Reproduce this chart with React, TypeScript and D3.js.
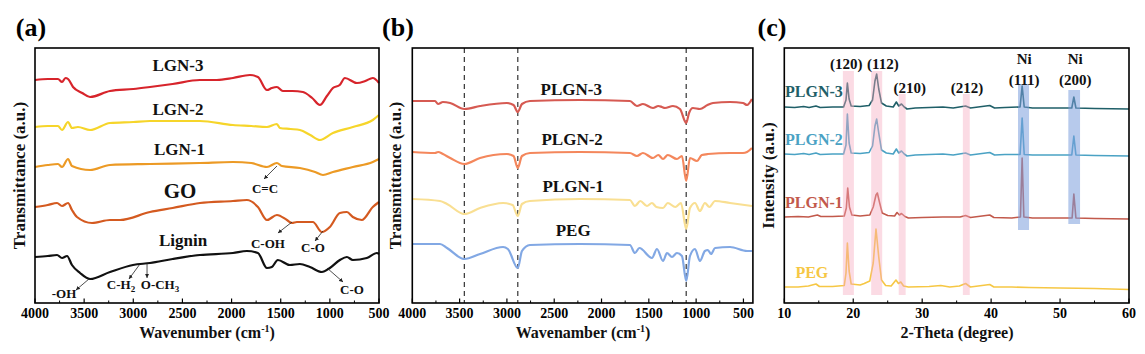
import { useEffect, useRef } from 'react';
import * as d3 from 'd3';

type Pt = [number, number];

// (a) FTIR: wavenumber (cm-1), transmittance (a.u., stacked)
const lgn3: Pt[] = [[4000,223],[3870,224],[3766,224],[3725,221],[3690,225],[3664,224],[3613,216],[3520,210],[3440,206],[3237,212],[3000,214],[2830,216],[2600,219],[2322,223],[2150,223],[1986,225],[1813,228],[1732,226],[1640,213],[1590,215],[1539,216],[1478,212],[1380,212],[1274,211],[1180,205],[1101,198],[1030,207],[969,215],[900,218],[847,225],[725,220],[640,222],[563,225],[500,220]];
const lgn2: Pt[] = [[4000,176],[3870,177],[3766,177],[3725,173],[3664,181],[3624,175],[3563,176],[3440,173],[3237,180],[3000,181],[2830,182],[2322,182],[1986,178],[1800,177],[1640,176],[1539,179],[1508,175],[1400,174],[1305,173],[1200,168],[1101,163],[969,170],[766,176],[563,183],[500,188]];
const lgn1: Pt[] = [[4000,136],[3870,138],[3766,139],[3725,136],[3664,144],[3624,137],[3440,133],[3237,138],[2830,139],[2322,140],[1986,141],[1800,140],[1640,136],[1539,140],[1488,137],[1305,135],[1150,131],[1070,128],[969,131],[766,136],[563,141],[500,144]];
const go: Pt[] = [[4000,96],[3870,98],[3776,100],[3725,97],[3664,100],[3624,93],[3573,86],[3420,80],[3237,83],[3135,83],[2830,91],[2600,95],[2322,100],[1986,102],[1844,103],[1732,96],[1640,83],[1539,88],[1437,83],[1386,80],[1335,81],[1173,81],[1081,71],[1000,76],[898,90],[827,91],[766,86],[675,83],[563,96],[500,101]];
const lignin: Pt[] = [[4000,46],[3870,47],[3776,48],[3725,45],[3674,47],[3624,38],[3542,30],[3440,24],[3237,31],[3003,38],[2830,40],[2600,44],[2322,48],[1986,50],[1844,52],[1732,50],[1640,35],[1590,36],[1529,43],[1407,38],[1305,39],[1203,36],[1081,31],[1000,35],[898,43],[827,46],[766,43],[624,45],[522,50],[500,49]];

// (b) FTIR
const plgn3b: Pt[] = [[4000,202],[3760,202],[3728,199],[3676,201],[3600,200],[3450,194],[3284,197],[3000,200],[2930,198],[2885,191],[2841,199],[2756,202],[2228,203],[1700,202],[1626,197],[1562,199],[1456,195],[1400,197],[1361,196],[1330,195],[1245,197],[1171,194],[1105,180],[1075,190],[1034,195],[960,194],[880,198],[822,200],[642,201],[505,200],[462,198],[410,204]];
const plgn2b: Pt[] = [[4000,151],[3760,150],[3728,151],[3676,149],[3600,145],[3450,139],[3284,145],[3000,149],[2930,147],[2885,135],[2841,147],[2756,150],[2228,151],[1700,150],[1626,147],[1562,150],[1456,145],[1400,148],[1350,144],[1300,148],[1203,144],[1150,147],[1105,122],[1065,145],[991,142],[940,148],[876,149],[642,150],[505,150],[462,151],[410,155]];
const plgn1b: Pt[] = [[4000,104],[3707,102],[3633,99],[3450,89],[3284,95],[3041,100],[2940,98],[2885,87],[2841,99],[2757,102],[2228,104],[1700,103],[1647,97],[1590,102],[1520,97],[1467,100],[1420,96],[1350,95],[1300,100],[1220,96],[1160,100],[1105,74],[1065,95],[1012,100],[960,92],[907,100],[860,96],[800,102],[642,100],[410,97]];
const pegb: Pt[] = [[4000,59],[3707,59],[3633,55],[3450,44],[3284,49],[3041,56],[2990,54],[2885,35],[2841,52],[2757,58],[2228,59],[1700,58],[1647,50],[1600,55],[1467,45],[1414,54],[1350,42],[1308,50],[1255,46],[1203,50],[1150,47],[1105,22],[1065,47],[1012,54],[960,42],[907,52],[876,53],[842,49],[800,55],[642,56],[462,52],[410,52]];
const dashedB = [3450, 2885, 1105];

// (c) XRD: 2-theta (degree), intensity (a.u., stacked)
const plgn3c: Pt[] = [[10,196],[11.5,195.5],[12.8,196.5],[13.6,195.5],[14.6,197],[15.2,195.5],[17,196],[18.6,196],[18.95,203],[19.15,220],[19.4,204],[19.7,197],[21,196.5],[22.3,197.5],[22.8,203],[23.15,222],[23.4,229],[23.7,214],[24.1,200],[24.8,197],[25.8,196],[26.25,201],[26.6,197],[27.0,199],[27.4,196],[27.8,194],[29,195],[31,195.5],[33,196],[34.5,195],[36.3,197],[37,195],[39.8,197.5],[40.5,195],[42,195.5],[44.2,196],[44.5,217],[44.8,196],[46,195],[48,195],[51.7,195],[52.0,206],[52.3,195],[55,194.5],[60,194]];
const plgn2c: Pt[] = [[10,149],[11.5,148.5],[12.8,149.5],[13.6,148.5],[14.6,150],[15.2,148.5],[17,149],[18.6,149],[18.95,158],[19.15,189],[19.4,160],[19.7,150],[21,149.5],[22.3,150.5],[22.8,157],[23.15,177],[23.4,184],[23.7,170],[24.1,153],[24.8,150],[25.8,149],[26.25,154],[26.6,150],[27.0,152],[27.4,149],[27.8,147],[29,148],[31,148.5],[33,149],[34.5,148],[36.3,150],[37,148],[39.8,150.5],[40.5,148],[42,148.5],[44.2,148.5],[44.5,185],[44.8,148.5],[46,148],[48,148],[51.7,148],[52.0,167],[52.3,148],[55,147.5],[60,147]];
const plgn1c: Pt[] = [[10,86],[12,86.5],[13.5,86],[14.8,88],[15.3,86.5],[17,86.5],[18.7,87],[19.0,95],[19.2,115],[19.45,96],[19.8,88],[21,87],[22.4,88],[22.9,96],[23.3,108],[23.5,110],[23.8,101],[24.2,90],[25,87.5],[26.0,87],[26.35,90.5],[26.7,88],[27.0,89.5],[27.5,86.5],[28,85],[30,85.5],[33,86],[35.5,86],[36.3,87.5],[37,85.5],[39.8,88],[40.4,85.5],[43,85],[44.25,86],[44.5,145],[44.75,86],[46,85],[49,85],[51.75,85],[52.0,109],[52.3,85],[55,84.5],[60,84]];
const pegc: Pt[] = [[10,16],[12,16],[13.5,17],[14.6,19],[15.1,16.5],[17,16.5],[18.7,17.5],[18.95,30],[19.15,60],[19.4,32],[19.7,19],[21,18],[21.6,19.5],[22.4,22],[22.9,40],[23.3,74],[23.7,46],[24.1,23],[24.7,17.5],[25.5,17],[26.2,23],[26.55,19.5],[26.9,21],[27.3,17],[28,16],[31,16.5],[32.7,17.5],[34,16],[35.4,17],[36.3,19.5],[37,16],[39.8,18.5],[40.4,16],[43,16],[45.5,15.5],[50,15],[55,14.5],[60,13.5]];

// shaded reflections: [from, to, top, bottom]
const pinkBands: [number, number, number, number][] = [[18.5,20.1,232,8],[22.6,24.2,232,8],[26.6,27.6,209,8],[35.9,36.9,209,8]];
const blueBands: [number, number, number, number][] = [[43.9,45.5,219,73],[51.2,52.9,213,79]];
const peakLabels: [string, string | null, number, number][] = [['(120)',null,19.0,234],['(112)',null,24.3,234],['(210)',null,28.2,210],['(212)',null,36.5,210],['Ni','(111)',44.8,239],['Ni','(200)',52.2,239]];

// annotations for (a): text, label x/y, arrow from x/y, arrow to x/y
const annA: { t: string; sub?: string; x: number; y: number; fx: number; fy: number; tx: number; ty: number }[] = [
  { t: 'C=C', x: 1660, y: 110, fx: 1538, fy: 137, tx: 1670, ty: 124 },
  { t: 'C-OH', x: 1630, y: 55, fx: 1385, fy: 81, tx: 1528, ty: 70 },
  { t: 'C-O', x: 1172, y: 51, fx: 1070, fy: 72, tx: 1151, ty: 62 },
  { t: '-OH', x: 3705, y: 5, fx: 3451, fy: 24, tx: 3583, ty: 13 },
  { t: 'C-H', sub: '2', x: 3125, y: 14, fx: 2932, fy: 39, tx: 3044, ty: 24 },
  { t: 'O-CH', sub: '3', x: 2728, y: 14, fx: 2860, fy: 40, tx: 2860, ty: 25 },
  { t: 'C-O', x: 775, y: 9, fx: 1029, fy: 35, tx: 866, ty: 21 },
];

const W = 1145;
const H = 354;
const TOP = 48;
const BOTTOM = 303;
const FONT = "'Liberation Serif', 'Times New Roman', serif";

type Sel = d3.Selection<SVGGElement, unknown, null, undefined>;

function drawFrame(g: Sel, x: d3.ScaleLinear<number, number>, majors: number[], minors: number[]) {
  const [x0, x1] = x.range();
  majors.forEach(v => {
    g.append('line').attr('x1', x(v)).attr('x2', x(v)).attr('y1', BOTTOM).attr('y2', BOTTOM - 4.5)
      .attr('stroke', '#000').attr('stroke-width', 1.2);
    g.append('text').attr('x', x(v)).attr('y', 318).attr('text-anchor', 'middle')
      .attr('font-family', FONT).attr('font-weight', 'bold').attr('font-size', 14).text(v);
  });
  minors.forEach(v => {
    g.append('line').attr('x1', x(v)).attr('x2', x(v)).attr('y1', BOTTOM).attr('y2', BOTTOM - 2.5)
      .attr('stroke', '#000').attr('stroke-width', 1);
  });
  g.append('rect').attr('x', x0).attr('y', TOP).attr('width', x1 - x0).attr('height', BOTTOM - TOP)
    .attr('fill', 'none').attr('stroke', '#000').attr('stroke-width', 1.6);
}

function text(g: Sel, s: string, x: number, y: number, size: number, color = '#111', anchor = 'middle') {
  return g.append('text').attr('x', x).attr('y', y).attr('text-anchor', anchor)
    .attr('font-family', FONT).attr('font-weight', 'bold').attr('font-size', size).attr('fill', color).text(s);
}

function yTitle(g: Sel, s: string, x: number) {
  g.append('text').attr('transform', `translate(${x},${(TOP + BOTTOM) / 2}) rotate(-90)`)
    .attr('text-anchor', 'middle').attr('font-family', FONT).attr('font-weight', 'bold')
    .attr('font-size', 17).attr('fill', '#111').text(s);
}

function xTitleCm(g: Sel, s: string, x: number) {
  const t = g.append('text').attr('x', x).attr('y', 338).attr('text-anchor', 'middle')
    .attr('font-family', FONT).attr('font-weight', 'bold').attr('font-size', 16).attr('fill', '#111');
  t.append('tspan').text(s + ' (cm');
  t.append('tspan').attr('dy', -6).attr('font-size', 10).text('-1');
  t.append('tspan').attr('dy', 6).text(')');
}

export default function App() {
  const svgRef = useRef<SVGSVGElement>(null);

  useEffect(() => {
    if (!svgRef.current) return;
    const svg = d3.select(svgRef.current);
    svg.selectAll('*').remove();
    svg.append('rect').attr('width', W).attr('height', H).attr('fill', '#fff');

    svg.append('defs').append('marker').attr('id', 'arr').attr('viewBox', '0 0 8 8')
      .attr('refX', 8).attr('refY', 4).attr('markerWidth', 5).attr('markerHeight', 5)
      .attr('orient', 'auto').append('path').attr('d', 'M0,0L8,4L0,8z').attr('fill', '#222');

    const root = svg.append('g') as unknown as Sel;
    const y = d3.scaleLinear().domain([0, 255]).range([BOTTOM, TOP]);

    // ---------- (a)
    const xa = d3.scaleLinear().domain([4000, 500]).range([35, 379]);
    const lineA = d3.line<Pt>().x(d => xa(d[0])).y(d => y(d[1])).curve(d3.curveMonotoneX);
    const seriesA: [Pt[], string][] = [[lgn3, '#d7242b'], [lgn2, '#f6d52a'], [lgn1, '#ec9a25'], [go, '#d45a20'], [lignin, '#111111']];
    seriesA.forEach(([d, c]) => {
      root.append('path').datum(d).attr('d', lineA).attr('fill', 'none').attr('stroke', c)
        .attr('stroke-width', 2.2).attr('stroke-linejoin', 'round');
    });
    text(root, 'LGN-3', xa(2545), y(232), 17);
    text(root, 'LGN-2', xa(2545), y(188), 17);
    text(root, 'LGN-1', xa(2530), y(148), 17);
    text(root, 'GO', xa(2525), y(105), 21);
    text(root, 'Lignin', xa(2494), y(57), 17);
    annA.forEach(a => {
      root.append('line').attr('x1', xa(a.fx)).attr('y1', y(a.fy)).attr('x2', xa(a.tx)).attr('y2', y(a.ty))
        .attr('stroke', '#222').attr('stroke-width', 0.8).attr('marker-end', 'url(#arr)');
      const t = text(root, '', xa(a.x), y(a.y), 13);
      t.append('tspan').text(a.t);
      if (a.sub) t.append('tspan').attr('dy', 3).attr('font-size', 9).text(a.sub);
    });
    drawFrame(root, xa, d3.range(4000, 499, -500), d3.range(3750, 500, -500));
    xTitleCm(root, 'Wavenumber', 207);
    yTitle(root, 'Transmittance (a.u.)', 25);
    text(root, '(a)', 31, 36, 26, '#000');

    // ---------- (b)
    const xb = d3.scaleLinear().domain([4000, 400]).range([412.3, 752.9]);
    const lineB = d3.line<Pt>().x(d => xb(d[0])).y(d => y(d[1])).curve(d3.curveMonotoneX);
    dashedB.forEach(v => {
      root.append('line').attr('x1', xb(v)).attr('x2', xb(v)).attr('y1', TOP).attr('y2', BOTTOM)
        .attr('stroke', '#333').attr('stroke-width', 1.2).attr('stroke-dasharray', '5,4');
    });
    const seriesB: [Pt[], string][] = [[plgn3b, '#d65a52'], [plgn2b, '#f4875c'], [plgn1b, '#f9df92'], [pegb, '#82a8e4']];
    seriesB.forEach(([d, c]) => {
      root.append('path').datum(d).attr('d', lineB).attr('fill', 'none').attr('stroke', c)
        .attr('stroke-width', 2.2).attr('stroke-linejoin', 'round');
    });
    text(root, 'PLGN-3', xb(2320), y(208), 17);
    text(root, 'PLGN-2', xb(2310), y(158), 17);
    text(root, 'PLGN-1', xb(2300), y(111), 17);
    text(root, 'PEG', xb(2300), y(67), 17);
    drawFrame(root, xb, d3.range(4000, 499, -500), d3.range(3750, 400, -500));
    xTitleCm(root, 'Wavenamber', 583);
    yTitle(root, 'Transmittance (a.u.)', 401);
    text(root, '(b)', 398, 36, 26, '#000');

    // ---------- (c)
    const xc = d3.scaleLinear().domain([10, 60]).range([784.3, 1129]);
    const lineC = d3.line<Pt>().x(d => xc(d[0])).y(d => y(d[1]));
    const seriesC: [Pt[], string][] = [[plgn3c, '#1f5f68'], [plgn2c, '#4aa2c4'], [plgn1c, '#c2594b'], [pegc, '#f6c744']];
    seriesC.forEach(([d, c]) => {
      root.append('path').datum(d).attr('d', lineC).attr('fill', 'none').attr('stroke', c)
        .attr('stroke-width', 1.6).attr('stroke-linejoin', 'round');
    });
    pinkBands.forEach(([a, b, t, bt]) => {
      root.append('rect').attr('x', xc(a)).attr('width', xc(b) - xc(a)).attr('y', y(t)).attr('height', y(bt) - y(t))
        .attr('fill', '#f5a9bf').attr('opacity', 0.42);
    });
    blueBands.forEach(([a, b, t, bt]) => {
      root.append('rect').attr('x', xc(a)).attr('width', xc(b) - xc(a)).attr('y', y(t)).attr('height', y(bt) - y(t))
        .attr('fill', '#7c9fdc').attr('opacity', 0.55);
    });
    peakLabels.forEach(([l1, l2, t, v]) => {
      text(root, l1, xc(t), y(v), 15);
      if (l2) text(root, l2, xc(t), y(v - 21), 15);
    });
    text(root, 'PLGN-3', xc(14.3), y(206), 16, '#1f5f68');
    text(root, 'PLGN-2', xc(14.3), y(158), 16, '#4aa2c4');
    text(root, 'PLGN-1', xc(14.3), y(95), 16, '#c2594b');
    text(root, 'PEG', xc(14.0), y(25), 16, '#f6c744');
    drawFrame(root, xc, d3.range(10, 61, 10), d3.range(15, 60, 10));
    text(root, '2-Theta (degree)', 957, 338, 16);
    yTitle(root, 'Intensity (a.u.)', 774);
    text(root, '(c)', 772, 36, 26, '#000');
  }, []);

  return (
    <svg ref={svgRef} width={W} height={H} style={{ position: 'absolute', left: 0, top: 0, display: 'block' }} />
  );
}
